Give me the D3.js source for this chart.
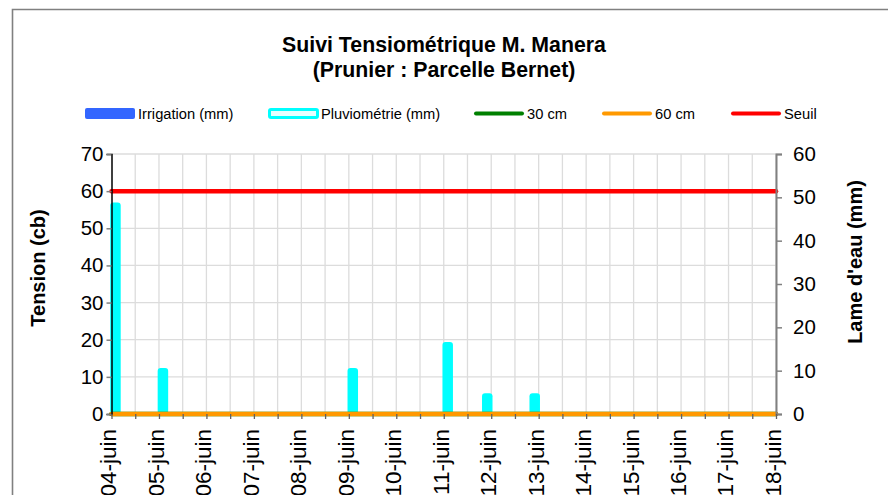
<!DOCTYPE html>
<html><head><meta charset="utf-8">
<script src="https://cdn.jsdelivr.net/npm/d3@7"></script>
<style>body{margin:0;background:#fff}svg{display:block;font-family:"Liberation Sans",Arial,sans-serif}</style>
</head><body><svg id="c" width="888" height="495"></svg>
<script>
// ---- data ----
const titleLines = ["Suivi Tensiométrique M. Manera", "(Prunier : Parcelle Bernet)"];
const days = ["2012-06-04","2012-06-05","2012-06-06","2012-06-07","2012-06-08","2012-06-09","2012-06-10","2012-06-11","2012-06-12","2012-06-13","2012-06-14","2012-06-15","2012-06-16","2012-06-17","2012-06-18"];
const dayLabels = ["04-juin","05-juin","06-juin","07-juin","08-juin","09-juin","10-juin","11-juin","12-juin","13-juin","14-juin","15-juin","16-juin","17-juin","18-juin"];
const rainTimes = ["2012-06-04 02:00","2012-06-05 02:00","2012-06-09 02:00","2012-06-11 02:00","2012-06-11 22:00","2012-06-12 22:00"];
const rainMm = [48.8, 10.6, 10.6, 16.6, 4.8, 4.8];
const irrigTimes = [];
const irrigMm = [];
const tension30 = [0,0,0,0,0,0,0,0,0,0,0,0,0,0,0];
const tension60 = [0,0,0,0,0,0,0,0,0,0,0,0,0,0,0];
const seuil = [60,60,60,60,60,60,60,60,60,60,60,60,60,60,60];
const leftTicks = [0,10,20,30,40,50,60,70];
const rightTicks = [0,10,20,30,40,50,60];
const legendItems = [
  {name:"Irrigation (mm)", type:"bar", color:"#3366ff"},
  {name:"Pluviométrie (mm)", type:"rain", color:"#00ffff"},
  {name:"30 cm", type:"line", color:"#008000"},
  {name:"60 cm", type:"line", color:"#ff9900"},
  {name:"Seuil", type:"line", color:"#ff0000"}
];

// ---- layout ----
const svg = d3.select("#c");
const L = 111.5, R = 776, T = 154, B = 414;
const parseDay = d3.utcParse("%Y-%m-%d");
const parseTime = d3.utcParse("%Y-%m-%d %H:%M");
const dayDates = days.map(parseDay);
const x = d3.scaleUtc().domain([dayDates[0], dayDates[dayDates.length-1]]).range([L, R]);
const yL = d3.scaleLinear().domain([0,70]).range([B, T]);
const yR = d3.scaleLinear().domain([0,60]).range([B, T]);
const halfDayTicks = d3.utcHour.every(12).range(dayDates[0], d3.utcHour.offset(dayDates[dayDates.length-1], 1));

// border
svg.append("path").attr("d","M12.5,495V9.5H888").attr("fill","none").attr("stroke","#808080").attr("stroke-width",1.6);

// title
svg.append("text").attr("x",444).attr("y",52).attr("text-anchor","middle").attr("font-weight","bold").attr("font-size",21.3).text(titleLines[0]);
svg.append("text").attr("x",444).attr("y",77).attr("text-anchor","middle").attr("font-weight","bold").attr("font-size",21.3).text(titleLines[1]);

// legend
const legX = [85, 268, 474, 602, 731];
const legY = 113.5;
const lg = svg.append("g").attr("font-size",14.7);
legendItems.forEach((it,i)=>{
  const x0 = legX[i];
  if (it.type==="bar") {
    lg.append("rect").attr("x",x0).attr("y",legY-5.5).attr("width",50).attr("height",11).attr("rx",2).attr("fill",it.color);
  } else if (it.type==="rain") {
    lg.append("rect").attr("x",x0+1.5).attr("y",legY-4).attr("width",48).attr("height",8).attr("rx",1.5).attr("fill","#e6ffff").attr("stroke",it.color).attr("stroke-width",3);
  } else {
    lg.append("line").attr("x1",x0+2).attr("x2",x0+48).attr("y1",legY).attr("y2",legY).attr("stroke",it.color).attr("stroke-width",4).attr("stroke-linecap","round");
  }
  lg.append("text").attr("x",x0+53).attr("y",legY).attr("dy","0.35em").text(it.name);
});

// grid
const grid = svg.append("g").attr("stroke","#dcdcdc").attr("stroke-width",1.3);
leftTicks.slice(1).forEach(v=>grid.append("line").attr("x1",L).attr("x2",R).attr("y1",yL(v)).attr("y2",yL(v)));
halfDayTicks.slice(1).forEach(d=>grid.append("line").attr("x1",x(d)).attr("x2",x(d)).attr("y1",T).attr("y2",B));

// bars
const barW = 10.5;
svg.append("g").selectAll("rect").data(rainTimes.map((t,i)=>({t:parseTime(t), v:rainMm[i]}))).join("rect")
  .attr("x",d=>x(d.t)-barW/2).attr("width",barW)
  .attr("y",d=>yR(d.v)).attr("height",d=>B-yR(d.v))
  .attr("rx",3).attr("fill","#00ffff");
svg.append("g").selectAll("rect").data(irrigTimes.map((t,i)=>({t:parseTime(t), v:irrigMm[i]})).filter(d=>d.v>0)).join("rect")
  .attr("x",d=>x(d.t)-barW/2).attr("width",barW)
  .attr("y",d=>yR(d.v)).attr("height",d=>B-yR(d.v))
  .attr("rx",3).attr("fill","#3366ff");

// lines
const line = d3.line().x((d,i)=>x(dayDates[i])).y(d=>yL(d));
[[tension30,"#008000"],[tension60,"#ff9900"],[seuil,"#ff0000"]].forEach(([s,c])=>{
  svg.append("path").attr("d",line(s)).attr("fill","none").attr("stroke",c).attr("stroke-width",4.5).attr("stroke-linecap","round");
});

// left axis
const gl = svg.append("g").attr("transform",`translate(${L},0)`);
gl.call(d3.axisLeft(yL).tickValues(leftTicks).tickSize(5).tickPadding(3).tickFormat(d3.format("d")));
gl.select(".domain").attr("stroke","#000").attr("stroke-width",1.5);
gl.selectAll(".tick line").attr("stroke","#808080").attr("stroke-width",1.5);
gl.selectAll(".tick text").attr("font-size",20.5).attr("font-family","Liberation Sans, Arial, sans-serif").attr("fill","#000");

// right axis
const gr = svg.append("g").attr("transform",`translate(${R},0)`);
gr.call(d3.axisRight(yR).tickValues(rightTicks).tickSize(6).tickPadding(11).tickFormat(d3.format("d")));
gr.select(".domain").attr("stroke","#808080").attr("stroke-width",2);
gr.selectAll(".tick line").attr("stroke","#808080").attr("stroke-width",1.5);
gr.selectAll(".tick text").attr("font-size",20.5).attr("font-family","Liberation Sans, Arial, sans-serif").attr("fill","#000");

// bottom axis
const gb = svg.append("g").attr("transform",`translate(0,${B})`);
gb.call(d3.axisBottom(x).tickValues(halfDayTicks).tickSize(5).tickFormat(""));
gb.select(".domain").remove();
gb.selectAll(".tick line").attr("stroke","#606060").attr("stroke-width",1.3);
const labelIndex = new Map(dayDates.map((d,i)=>[+d,i]));
svg.append("g").selectAll("text").data(dayDates).join("text")
  .attr("transform",d=>`translate(${x(d)},${B+15}) rotate(-90)`)
  .attr("text-anchor","end").attr("dy","0.22em").attr("font-size",22.5)
  .text(d=>dayLabels[labelIndex.get(+d)]);

// axis titles
svg.append("text").attr("transform","translate(45,268) rotate(-90)").attr("text-anchor","middle").attr("font-weight","bold").attr("font-size",20).text("Tension (cb)");
svg.append("text").attr("transform","translate(862,262) rotate(-90)").attr("text-anchor","middle").attr("font-weight","bold").attr("font-size",20).text("Lame d'eau (mm)");
</script></body></html>
